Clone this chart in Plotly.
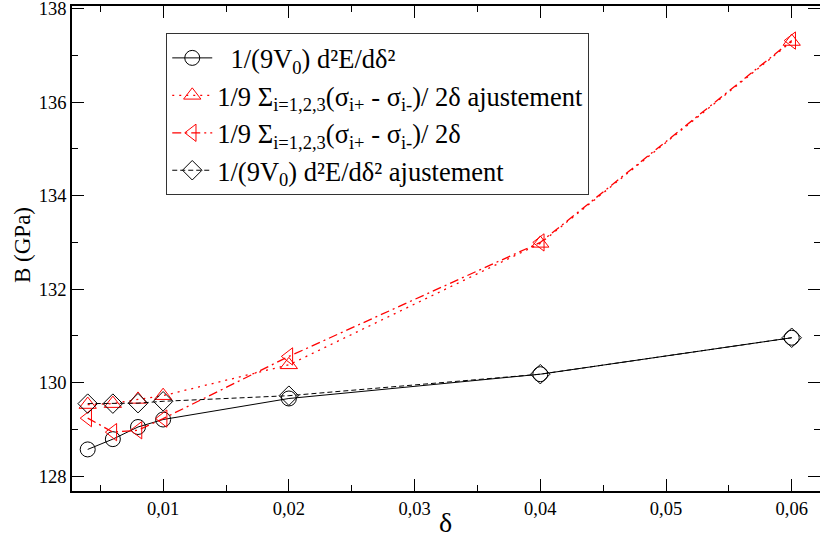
import plotly.graph_objects as go

delta = [0.004, 0.006, 0.008, 0.01, 0.02, 0.04, 0.06]
b_d2e = [128.57, 128.79, 129.05, 129.21, 129.66, 130.18, 130.96]
b_sigma_fit = [129.53, 129.55, 129.64, 129.72, 130.38, 132.98, 137.30]
b_sigma = [129.24, 128.94, 128.98, 129.23, 130.56, 133.00, 137.32]
b_d2e_fit = [129.55, 129.55, 129.56, 129.60, 129.72, 130.18, 130.96]

names = [
    "  1/(9V<sub>0</sub>) d²E/dδ²",
    "1/9 Σ<sub>i=1,2,3</sub>(σ<sub>i+</sub> - σ<sub>i-</sub>)/ 2δ ajustement",
    "1/9 Σ<sub>i=1,2,3</sub>(σ<sub>i+</sub> - σ<sub>i-</sub>)/ 2δ",
    "1/(9V<sub>0</sub>) d²E/dδ² ajustement",
]
x_title = "δ"
y_title = "B (GPa)"

SERIF = "Liberation Serif, Times New Roman, Times, serif"

fig = go.Figure()
fig.add_trace(go.Scatter(x=delta, y=b_d2e, name=names[0], mode="lines+markers",
                         line=dict(color="black", width=1, dash="solid"),
                         marker=dict(symbol="circle-open", size=15, color="black", line=dict(width=1))))
fig.add_trace(go.Scatter(x=delta, y=b_sigma_fit, name=names[1], mode="lines+markers",
                         line=dict(color="red", width=1.3, dash="2px,5px"),
                         marker=dict(symbol="triangle-up-open", size=15, color="red", line=dict(width=1))))
fig.add_trace(go.Scatter(x=delta, y=b_sigma, name=names[2], mode="lines+markers",
                         line=dict(color="red", width=1.3, dash="9px,4px,2px,4px"),
                         marker=dict(symbol="triangle-left-open", size=15, color="red", line=dict(width=1))))
fig.add_trace(go.Scatter(x=delta, y=b_d2e_fit, name=names[3], mode="lines+markers",
                         line=dict(color="black", width=1, dash="5px,3px"),
                         marker=dict(symbol="diamond-open", size=15, color="black", line=dict(width=1))))

axis_font = dict(family=SERIF, size=18.5, color="black")
fig.update_layout(
    width=820, height=544,
    margin=dict(l=72, r=0, t=6, b=53),
    paper_bgcolor="white", plot_bgcolor="white",
    separators=", ",
    font=dict(family=SERIF, color="black"),
    showlegend=True,
    legend=dict(x=0.126, y=0.944, xanchor="left", yanchor="top",
                bgcolor="white", bordercolor="#333", borderwidth=1,
                font=dict(family=SERIF, size=26.5, color="black"),
                tracegroupgap=0, itemwidth=40),
    xaxis=dict(range=[0.00275, 0.06225], showgrid=False, zeroline=False, automargin=False,
               showline=True, linecolor="black", linewidth=1.5, mirror="allticks",
               ticks="inside", ticklen=12, tickcolor="black", tickwidth=1,
               dtick=0.01, tick0=0, tickformat=".2f", tickfont=axis_font,
               ticklabeloverflow="allow",
               minor=dict(ticks="inside", ticklen=6, dtick=0.005, tickcolor="black", showgrid=False)),
    yaxis=dict(range=[127.68, 138.06], showgrid=False, zeroline=False, automargin=False,
               showline=True, linecolor="black", linewidth=1.5, mirror="allticks",
               ticks="inside", ticklen=12, tickcolor="black", tickwidth=1,
               dtick=2, tick0=128, tickfont=axis_font,
               ticklabeloverflow="allow",
               minor=dict(ticks="inside", ticklen=6, dtick=1, tickcolor="black", showgrid=False)),
    annotations=[
        dict(text=x_title, xref="paper", yref="paper", x=(445 - 72) / 748, y=-(522 - 491) / 485,
             xanchor="center", yanchor="middle", showarrow=False,
             font=dict(family=SERIF, size=28, color="black")),
        dict(text=y_title, xref="paper", yref="paper", x=-(72 - 22) / 748, y=(491 - 245) / 485,
             xanchor="center", yanchor="middle", showarrow=False, textangle=-90,
             font=dict(family=SERIF, size=23, color="black")),
    ],
)

fig.write_html("out.html", config={"displayModeBar": False},
               post_script="document.body.style.margin='0';document.body.style.overflow='hidden';")
